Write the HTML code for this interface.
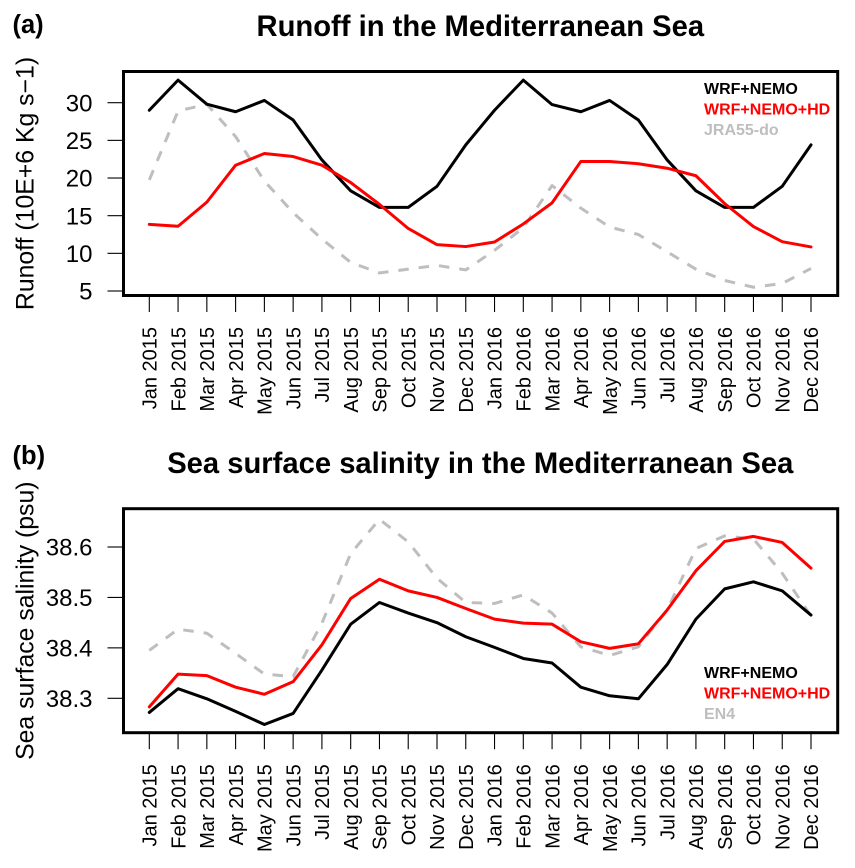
<!DOCTYPE html>
<html lang="en">
<head>
<meta charset="utf-8">
<title>Runoff and sea surface salinity in the Mediterranean Sea</title>
<style>
html,body{margin:0;padding:0;background:#fff;}
svg{display:block;}
text{font-family:"Liberation Sans",Arial,sans-serif;fill:#000;}
</style>
</head>
<body>
<svg id="chart" xmlns="http://www.w3.org/2000/svg" width="855" height="868" viewBox="0 0 855 868"></svg>
<script>
const months = ["Jan 2015","Feb 2015","Mar 2015","Apr 2015","May 2015","Jun 2015","Jul 2015","Aug 2015","Sep 2015","Oct 2015","Nov 2015","Dec 2015","Jan 2016","Feb 2016","Mar 2016","Apr 2016","May 2016","Jun 2016","Jul 2016","Aug 2016","Sep 2016","Oct 2016","Nov 2016","Dec 2016"];

const runoffTicks = [5,10,15,20,25,30];
const runoffNemo = [29.0,33.0,29.8,28.8,30.3,27.7,22.4,18.3,16.1,16.1,18.9,24.4,29.0,33.0,29.75,28.8,30.3,27.7,22.4,18.3,16.1,16.1,18.9,24.4];
const runoffNemoHd = [13.85,13.6,16.8,21.7,23.25,22.85,21.7,19.4,16.5,13.3,11.15,10.9,11.5,13.9,16.7,22.2,22.2,21.9,21.3,20.3,16.6,13.55,11.55,10.85];
const runoffJra = [19.75,28.9,29.8,25.5,19.6,15.4,11.9,8.8,7.4,7.9,8.4,7.8,10.4,13.4,19.0,16.0,13.5,12.5,10.2,7.9,6.4,5.5,6.0,8.0];

const salinityTicks = [38.3,38.4,38.5,38.6];
const salinityNemo = [38.272,38.319,38.299,38.274,38.248,38.27,38.356,38.447,38.49,38.469,38.45,38.422,38.401,38.379,38.37,38.322,38.305,38.299,38.367,38.457,38.517,38.531,38.513,38.465];
const salinityNemoHd = [38.283,38.348,38.345,38.322,38.308,38.333,38.406,38.498,38.536,38.513,38.5,38.478,38.457,38.449,38.447,38.412,38.399,38.408,38.475,38.553,38.611,38.621,38.609,38.558];
const salinityEn4 = [38.395,38.437,38.429,38.389,38.348,38.343,38.449,38.587,38.655,38.61,38.538,38.49,38.488,38.505,38.469,38.402,38.385,38.402,38.475,38.597,38.622,38.616,38.548,38.463];

const svg = document.getElementById('chart');
const NS = 'http://www.w3.org/2000/svg';

function make(tag, attrs, text) {
  const el = document.createElementNS(NS, tag);
  Object.keys(attrs).forEach(function (k) { el.setAttribute(k, attrs[k]); });
  if (text !== undefined) el.textContent = text;
  svg.appendChild(el);
  return el;
}

function xScale(i) {
  return 149.3 + i * (811 - 149.3) / (months.length - 1);
}
function runoffY(v) {
  return 291 + (v - 5) * (102.7 - 291) / 25;
}
function salinityY(v) {
  return 698.3 + (v - 38.3) * (547 - 698.3) / 0.3;
}

function drawSeries(values, yFn, color, dashed, name) {
  const pts = values.map(function (v, i) { return xScale(i).toFixed(2) + ',' + yFn(v).toFixed(2); }).join(' ');
  const line = make('polyline', {
    points: pts, fill: 'none', stroke: color, 'stroke-width': 3,
    'stroke-linejoin': 'round', 'stroke-linecap': dashed ? 'butt' : 'round',
    'stroke-dasharray': dashed ? '10.5 10' : 'none'
  });
  
  
}

function drawPanel(p) {
  const title = make('text', {x: 480.3, y: p.titleY, 'text-anchor': 'middle', 'font-size': 29.2, 'font-weight': 'bold'}, p.title);
  
  

  const tag = make('text', {x: 12.5, y: p.tagY, 'font-size': 25.5, 'font-weight': 'bold'}, p.tag);
  
  

  const cy = (p.top + p.bottom) / 2;
  const yTitle = make('text', {x: 0, y: 0, 'text-anchor': 'middle', 'font-size': 24.8, transform: 'translate(33.5 ' + cy + ') rotate(-90)'}, p.yLabel);
  
  

  p.yTicks.forEach(function (t) {
    const y = p.yFn(t);
    const tick = make('line', {x1: 107.5, x2: 123.5, y1: y, y2: y, stroke: '#000', 'stroke-width': 1.1});
    
    
    const label = make('text', {x: 92.5, y: y + 8.6, 'text-anchor': 'end', 'font-size': 24}, p.yFormat(t));
    
    
  });

  months.forEach(function (m, i) {
    const x = xScale(i);
    const tick = make('line', {x1: x, x2: x, y1: p.bottom, y2: p.bottom + 16.5, stroke: '#000', 'stroke-width': 1.1});
    
    
    const label = make('text', {x: 0, y: 0, 'text-anchor': 'end', 'font-size': 20, transform: 'translate(' + (x + 7.2) + ' ' + (p.bottom + 31.5) + ') rotate(-90)'}, m);
    
    
  });

  p.series.forEach(function (s) {
    drawSeries(s.values, p.yFn, s.color, s.dashed, p.id + '-' + s.name + '-line');
  });

  const box = make('rect', {x: 123.5, y: p.top, width: 837.7 - 123.5, height: p.bottom - p.top, fill: 'none', stroke: '#000', 'stroke-width': 3});
  
  

  p.series.forEach(function (s) {
    const entry = make('text', {x: 704, y: p.legendY + s.legendRow * 20.6, 'font-size': 16, 'font-weight': 'bold', style: 'fill:' + s.color}, s.label);
    
    
  });
}

drawPanel({
  id: 'runoff', title: 'Runoff in the Mediterranean Sea', titleY: 36, tag: '(a)', tagY: 33,
  yLabel: 'Runoff (10E+6 Kg s\u22121)', top: 71.5, bottom: 295.5, yFn: runoffY, yTicks: runoffTicks,
  yFormat: function (t) { return String(t); }, legendY: 94,
  series: [
    {values: runoffJra, color: '#BEBEBE', dashed: true, name: 'jra55-do', label: 'JRA55-do', legendRow: 2},
    {values: runoffNemo, color: '#000000', dashed: false, name: 'wrf-nemo', label: 'WRF+NEMO', legendRow: 0},
    {values: runoffNemoHd, color: '#FF0000', dashed: false, name: 'wrf-nemo-hd', label: 'WRF+NEMO+HD', legendRow: 1}
  ]
});

drawPanel({
  id: 'salinity', title: 'Sea surface salinity in the Mediterranean Sea', titleY: 473, tag: '(b)', tagY: 464,
  yLabel: 'Sea surface salinity (psu)', top: 508.7, bottom: 732.7, yFn: salinityY, yTicks: salinityTicks,
  yFormat: function (t) { return t.toFixed(1); }, legendY: 678,
  series: [
    {values: salinityEn4, color: '#BEBEBE', dashed: true, name: 'en4', label: 'EN4', legendRow: 2},
    {values: salinityNemo, color: '#000000', dashed: false, name: 'wrf-nemo', label: 'WRF+NEMO', legendRow: 0},
    {values: salinityNemoHd, color: '#FF0000', dashed: false, name: 'wrf-nemo-hd', label: 'WRF+NEMO+HD', legendRow: 1}
  ]
});
</script>
</body>
</html>
